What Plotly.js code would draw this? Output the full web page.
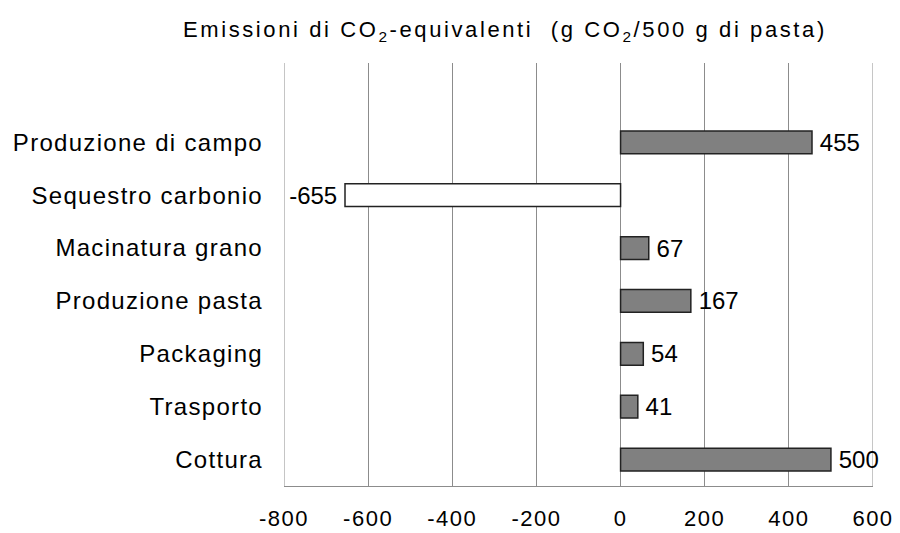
<!DOCTYPE html>
<html><head><meta charset="utf-8">
<script src="https://cdn.plot.ly/plotly-3.0.1.min.js"></script>
<style>
body{margin:0;background:#fff}#c{width:900px;height:533px}
#c .gtitle{letter-spacing:2.6px}
#c .ytick text{letter-spacing:1.3px}
#c .xtick text{letter-spacing:1.5px}
#c .textpoint text{letter-spacing:1.5px}
</style>
</head><body><div id="c"></div>
<script>
const categories = ["Produzione di campo","Sequestro carbonio","Macinatura grano","Produzione pasta","Packaging","Trasporto","Cottura"];
const values = [455, -655, 67, 167, 54, 41, 500];
const fills = ["#808080","#ffffff","#808080","#808080","#808080","#808080","#808080"];
const xTicks = [-800,-600,-400,-200,0,200,400,600];

const fam = "Liberation Sans, Arial, sans-serif";
const gridColor = "#8c8c8c";
Plotly.newPlot("c", [{
  type:"bar", orientation:"h",
  y: categories, x: values,
  text: values.map(String),
  texttemplate: values.map(v => v < 0 ? "%{text}\u2009" : "\u2009%{text}"),
  textposition:"outside",
  constraintext:"none",
  textfont:{family:fam, size:24, color:"#000"},
  cliponaxis:false,
  marker:{color:fills, line:{color:"#222", width:1.5}},
  hoverinfo:"none"
}], {
  width:900, height:533,
  margin:{l:284, r:27, t:63, b:47},
  paper_bgcolor:"#fff", plot_bgcolor:"#fff",
  showlegend:false,
  bargap:0.57,
  title:{text:"Emissioni di CO<sub>2</sub>-equivalenti  (g CO<sub>2</sub>/500 g di pasta)",
    font:{family:fam, size:22, color:"#000"}, x:0.561, xanchor:"center", y:0.945, yanchor:"middle"},
  xaxis:{range:[-800,600], tickvals:xTicks, ticktext:xTicks.map(String),
    showgrid:true, gridcolor:gridColor, gridwidth:1,
    zeroline:true, zerolinecolor:gridColor, zerolinewidth:1,
    showline:true, linecolor:gridColor, linewidth:1, mirror:false,
    ticks:"", tickfont:{family:fam, size:22, color:"#000"}, ticklabelstandoff:13},
  yaxis:{type:"category", range:[6.5,-1.5], showgrid:false, zeroline:false, showline:false,
    ticks:"", tickfont:{family:fam, size:24, color:"#000"}, ticklabelstandoff:20},
  shapes:[xTicks[0], xTicks[xTicks.length-1]].map(v => ({type:"line", layer:"below", xref:"x", yref:"paper",
    x0:v, x1:v, y0:0, y1:1, line:{color:gridColor, width:1}}))
}, {displayModeBar:false, staticPlot:true});
</script></body></html>
